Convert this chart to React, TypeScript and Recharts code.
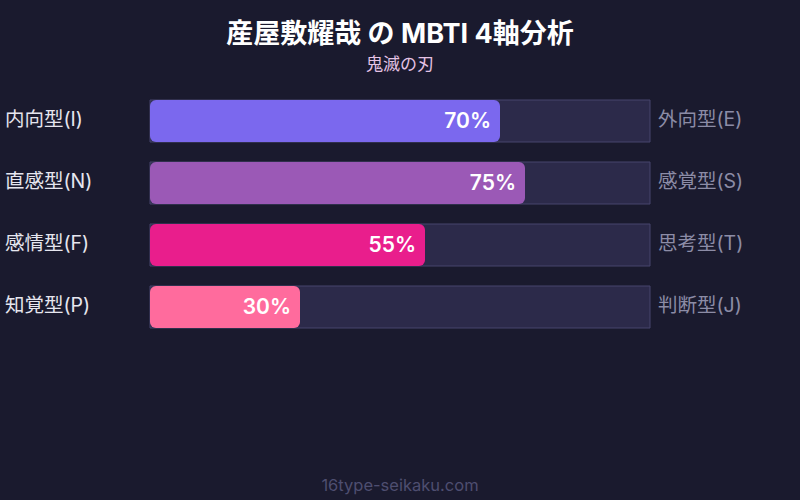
import React from 'react';
import { BarChart, Bar, XAxis, YAxis, Cell, LabelList } from 'recharts';

const leftLabels = ['内向型(I)', '直感型(N)', '感情型(F)', '知覚型(P)'];
const rightLabels = ['外向型(E)', '感覚型(S)', '思考型(T)', '判断型(J)'];
const scores = [70, 75, 55, 30];
const barColors = ['#7b68ee', '#9b59b6', '#e91e8c', '#ff6b9d'];

const data = leftLabels.map((name, i) => ({
  name,
  right: rightLabels[i],
  value: scores[i],
}));

const FONT = 'Inter, "Noto Sans CJK JP", sans-serif';

const LeftTick = (props: any) => {
  const { y, payload } = props;
  return (
    <text x={5} y={y} dy={5} fill="#e6e6ef" fontSize={19.5} fontFamily={FONT} textAnchor="start">
      {payload.value}
    </text>
  );
};

const RightTick = (props: any) => {
  const { y, payload } = props;
  return (
    <text x={658} y={y} dy={5} fill="#8c8ca6" fontSize={19.5} fontFamily={FONT} textAnchor="start">
      {payload.value}
    </text>
  );
};

const App: React.FC = () => {
  return (
    <div style={{ position: 'fixed', left: 0, top: 0, width: 800, height: 500, background: '#1a1a2e', fontFamily: FONT }}>
      <BarChart
        width={800}
        height={500}
        data={data}
        layout="vertical"
        margin={{ top: 90, right: 0, bottom: 162, left: 0 }}
        barSize={42}
      >
        <text x={400} y={43} textAnchor="middle" fill="#ffffff" fontSize={27} fontWeight={700} fontFamily={FONT}>
          産屋敷耀哉 の MBTI 4軸分析
        </text>
        <text x={400} y={70} textAnchor="middle" fill="#e4c2e4" fontSize={17} fontFamily={FONT}>
          鬼滅の刃
        </text>
        <text x={400} y={491} textAnchor="middle" fill="#4e4e70" fontSize={16.5} fontFamily={FONT}>
          16type-seikaku.com
        </text>
        <XAxis type="number" domain={[0, 100]} hide />
        <YAxis
          yAxisId="left"
          type="category"
          dataKey="name"
          width={150}
          axisLine={false}
          tickLine={false}
          tick={<LeftTick />}
        />
        <YAxis
          yAxisId="right"
          orientation="right"
          type="category"
          dataKey="right"
          width={150}
          axisLine={false}
          tickLine={false}
          tick={<RightTick />}
        />
        <Bar
          yAxisId="left"
          dataKey="value"
          radius={6}
          isAnimationActive={false}
          background={{ fill: '#2c2a4a', stroke: '#46446c', strokeWidth: 1 }}
        >
          {data.map((d, i) => (
            <Cell key={d.name} fill={barColors[i]} />
          ))}
          <LabelList
            dataKey="value"
            position="insideRight"
            offset={9}
            formatter={(v: any) => `${v}%`}
            fill="#ffffff"
            fontSize={21}
            fontWeight={600}
            fontFamily={FONT}
          />
        </Bar>
      </BarChart>
    </div>
  );
};

export default App;
